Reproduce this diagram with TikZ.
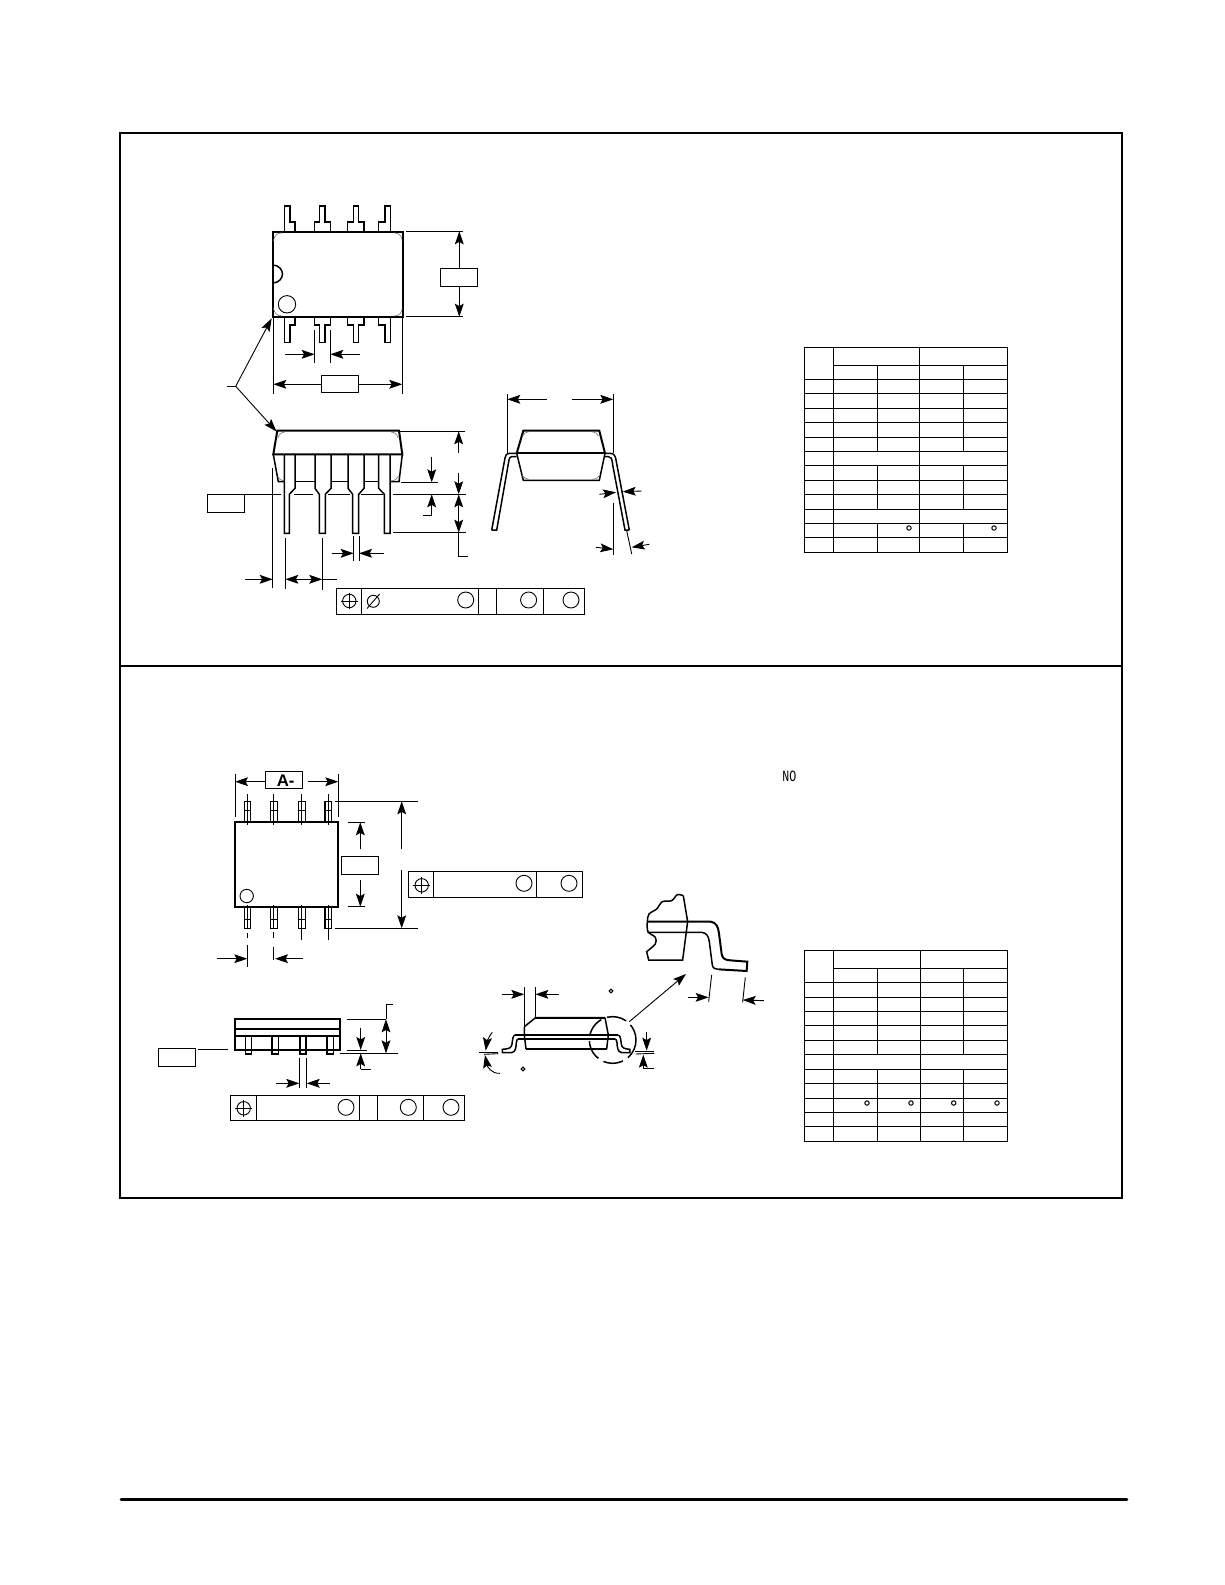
\documentclass[tikz,border=0pt]{standalone}
\usepackage{fontspec}
\setmainfont{Liberation Sans}
\newfontfamily\monolabel{Liberation Mono}
\usetikzlibrary{arrows.meta}
\tikzset{
    outline/.style={line width=1pt, line join=miter},
    lead/.style={line width=0.75pt},
    dim/.style={line width=0.45pt},
    rule/.style={line width=0.5pt},
    corner/.style={line width=0.3pt, draw=black!55}
}
\begin{document}
\begin{tikzpicture}[x=0.5pt, y=-0.5pt, >={Stealth[length=6.5pt,width=4.4pt,inset=1.2pt]}]
        \useasboundingbox (0, 0) rectangle (1225, 1585);
        % page frame
        \draw[line width=1pt] (119.7, 132.7) rectangle (1122, 1197.7);
        \draw[line width=1pt] (119.7, 666) -- (1122, 666);
        \draw[line width=1.3pt, line cap=round] (121, 1499.3) -- (1127, 1499.3);
        % upper package, top view
        \draw[outline] (272.7, 232) rectangle (403, 316.7);
        \draw[lead] (272.7, 265) .. controls (279, 265) and (282.5, 270) .. (282.5, 274) .. controls (282.5, 278) and (279, 283) .. (272.7, 283);
        \draw[dim] (287, 304.3) circle [radius=8.7];
        \draw[corner] (273.5, 241) .. controls (274, 236) and (277, 233) .. (282, 232.8);
        \draw[corner] (402.2, 241) .. controls (402, 236) and (399, 233) .. (394, 232.8);
        \draw[corner] (273.5, 308) .. controls (274, 313) and (277, 316) .. (282, 316);
        \draw[corner] (402.2, 308) .. controls (402, 313) and (399, 316) .. (394, 316);
        \draw[lead] (284.3, 232) -- (284.3, 206) -- (290, 206) -- (290, 222) -- (295, 222) -- (295, 232);
        \draw[lead] (314.3, 232) -- (314.3, 222) -- (319.3, 222) -- (319.3, 206) -- (325, 206) -- (325, 222) -- (330.7, 222) -- (330.7, 232);
        \draw[lead] (347.7, 232) -- (347.7, 222) -- (353.3, 222) -- (353.3, 206) -- (358.3, 206) -- (358.3, 222) -- (364, 222) -- (364, 232);
        \draw[lead] (378.7, 232) -- (378.7, 222) -- (385, 222) -- (385, 206) -- (390.3, 206) -- (390.3, 232);
        \draw[lead] (284.3, 316.7) -- (284.3, 342.3) -- (290, 342.3) -- (290, 325) -- (295, 325) -- (295, 316.7);
        \draw[lead] (314.3, 316.7) -- (314.3, 325) -- (319.3, 325) -- (319.3, 342.3) -- (325, 342.3) -- (325, 325) -- (330.7, 325) -- (330.7, 316.7);
        \draw[lead] (347.7, 316.7) -- (347.7, 325) -- (353.3, 325) -- (353.3, 342.3) -- (358.3, 342.3) -- (358.3, 325) -- (364, 325) -- (364, 316.7);
        \draw[lead] (378.7, 316.7) -- (378.7, 325) -- (385, 325) -- (385, 342.3) -- (390.3, 342.3) -- (390.3, 316.7);
        \draw[dim] (406, 231.3) -- (463.3, 231.3);
        \draw[dim] (406, 316.7) -- (463.3, 316.7);
        \draw[dim, ->] (459.3, 268.3) -- (459.3, 231.3);
        \draw[dim, ->] (459.3, 286.7) -- (459.3, 316.7);
        \draw[rule] (440.3, 268.3) rectangle (477.7, 286.7);
        \draw[dim] (314.7, 330) -- (314.7, 363.3);
        \draw[dim] (330.3, 330) -- (330.3, 363.3);
        \draw[dim, ->] (285, 354.3) -- (314.7, 354.3);
        \draw[dim, ->] (360, 354.3) -- (330.3, 354.3);
        \draw[dim] (273.3, 318.3) -- (273.3, 394);
        \draw[dim] (402.3, 318.3) -- (402.3, 394);
        \draw[dim, ->] (321.3, 384.3) -- (273.3, 384.3);
        \draw[dim, ->] (358.7, 384.3) -- (402.3, 384.3);
        \draw[rule] (321.3, 375.3) rectangle (358.7, 392.3);
        \draw[dim] (227.3, 386.3) -- (235.7, 386.3);
        \draw[dim, ->] (235.7, 386.3) -- (271.7, 318.3);
        \draw[dim, ->] (235.7, 386.3) -- (276.5, 431.5);
        % upper package, side view
        \draw[outline] (273.3, 454.3) -- (277.3, 430.7) -- (399, 430.7) -- (402.3, 454.3) -- cycle;
        \draw[lead] (273.3, 454.3) -- (278.3, 481.7) -- (284.3, 481.7);
        \draw[lead] (402.3, 454.3) -- (399, 481.7) -- (390, 481.7);
        \draw[lead] (295, 481.7) -- (315, 481.7);
        \draw[lead] (331, 481.7) -- (348, 481.7);
        \draw[lead] (364, 481.7) -- (378.7, 481.7);
        \draw[corner] (278, 438) .. controls (279, 434) and (281, 432.5) .. (285, 432);
        \draw[corner] (398, 438) .. controls (397, 434) and (395, 432.5) .. (391, 432);
        \draw[corner] (277.5, 476) .. controls (279, 479) and (281, 480.5) .. (284, 481);
        \draw[corner] (398.5, 476) .. controls (397, 479) and (395, 480.5) .. (391, 481);
        \draw[lead] (284.3, 454.3) -- (284.3, 533.3) -- (289.3, 533.3) -- (289.3, 494.3) -- (295, 488.3) -- (295, 454.3);
        \draw[lead] (315, 454.3) -- (315, 488.3) -- (319.3, 494.3) -- (319.3, 533.3) -- (325.3, 533.3) -- (325.3, 494.3) -- (331, 488.3) -- (331, 454.3);
        \draw[lead] (348, 454.3) -- (348, 488.3) -- (352.7, 494.3) -- (352.7, 533.3) -- (358.7, 533.3) -- (358.7, 494.3) -- (364, 488.3) -- (364, 454.3);
        \draw[lead] (378.7, 454.3) -- (378.7, 488.3) -- (384.3, 494.3) -- (384.3, 533.3) -- (390, 533.3) -- (390, 454.3);
        \draw[rule] (207.3, 494.3) rectangle (244.3, 512.3);
        \draw[dim] (244.3, 494.3) -- (281, 494.3);
        \draw[dim] (294.3, 494.3) -- (312.7, 494.3);
        \draw[dim] (328.3, 494.3) -- (350, 494.3);
        \draw[dim] (360.7, 494.3) -- (383.3, 494.3);
        \draw[dim] (393.3, 494.3) -- (466, 494.3);
        \draw[dim] (393.3, 532.3) -- (466, 532.3);
        \draw[dim] (400, 431.3) -- (465, 431.3);
        \draw[dim] (401, 482.3) -- (437.7, 482.3);
        \draw[dim, ->] (458.7, 452.7) -- (458.7, 431.3);
        \draw[dim, ->] (458.7, 473.3) -- (458.7, 494.3);
        \draw[dim, <->] (458.7, 494.3) -- (458.7, 532.7);
        \draw[dim] (458.7, 532.7) -- (458.7, 556) -- (467.7, 556);
        \draw[dim, ->] (431.7, 456.7) -- (431.7, 482.3);
        \draw[dim, ->] (431.7, 515) -- (431.7, 494.3);
        \draw[dim] (423.3, 515) -- (431.7, 515);
        \draw[dim] (353.7, 536) -- (353.7, 561);
        \draw[dim] (359, 536) -- (359, 561);
        \draw[dim, ->] (331.7, 553.3) -- (353.7, 553.3);
        \draw[dim, ->] (384, 553.3) -- (359, 553.3);
        \draw[dim] (272.7, 468.3) -- (272.7, 588.3);
        \draw[dim] (285.3, 538.3) -- (285.3, 589);
        \draw[dim] (322.3, 538.3) -- (322.3, 590);
        \draw[dim, ->] (245, 579.3) -- (272.7, 579.3);
        \draw[dim, <->] (285.3, 579.3) -- (322.3, 579.3);
        \draw[dim] (322.3, 579.3) -- (336.7, 579.3);
        \draw[rule] (336.3, 588.3) rectangle (584, 614.3);
        \draw[rule] (361.7, 588.3) -- (361.7, 614.3);
        \draw[rule] (478.3, 588.3) -- (478.3, 614.3);
        \draw[rule] (496.7, 588.3) -- (496.7, 614.3);
        \draw[rule] (543, 588.3) -- (543, 614.3);
        \draw[dim] (349.3, 601) circle [radius=6.7];
        \draw[dim] (341, 601) -- (357.6, 601);
        \draw[dim] (349.3, 592.7) -- (349.3, 609.3);
        \draw[dim] (373.3, 601.3) circle [radius=6];
        \draw[dim] (367, 608.5) -- (379.6, 594);
        \draw[dim] (465.7, 600) circle [radius=8];
        \draw[dim] (528.6, 600) circle [radius=8];
        \draw[dim] (571, 600) circle [radius=8];
        % upper package, end view
        \draw[outline] (516.7, 453.3) -- (523.3, 430.7) -- (599.3, 430.7) -- (605, 453.3);
        \draw[lead] (516.7, 453.3) -- (523.3, 480.3) -- (599.3, 480.3) -- (605, 453.3);
        \draw[outline] (516.7, 453.3) -- (605, 453.3);
        \draw[corner] (522.5, 436) .. controls (524, 433) and (526, 432) .. (529, 431.7);
        \draw[corner] (598.5, 436) .. controls (597, 433) and (595, 432) .. (592, 431.7);
        \draw[corner] (522, 475) .. controls (524, 478) and (526, 479) .. (529, 479.3);
        \draw[corner] (600, 475) .. controls (598, 478) and (596, 479) .. (592, 479.3);
        \draw[lead] (516.7, 453.3) -- (510, 453.3) .. controls (506, 453.3) and (505.5, 456) .. (505, 458) -- (491.7, 530);
        \draw[lead] (516.7, 456.5) -- (512, 456.5) .. controls (510, 456.5) and (509.5, 458) .. (509, 460) -- (496.7, 530) -- (491.7, 530);
        \draw[lead] (605, 453.3) -- (610, 453.3) .. controls (614, 453.3) and (615.5, 456) .. (616, 460) -- (629.3, 530);
        \draw[lead] (605, 456.5) -- (608, 456.5) .. controls (611, 456.5) and (612, 458) .. (612.7, 465) -- (625, 530) -- (629.3, 530);
        \draw[dim] (507.3, 394.3) -- (507.3, 453.3);
        \draw[dim] (613.3, 394.3) -- (613.3, 453.3);
        \draw[dim, ->] (546.7, 399.3) -- (507.3, 399.3);
        \draw[dim, ->] (572.3, 399.3) -- (613.3, 399.3);
        \draw[dim, ->] (599.3, 494.3) -- (616, 492.3);
        \draw[dim, ->] (641.7, 491) -- (622.7, 491.7);
        \draw[dim] (613.3, 503.3) -- (613.3, 555);
        \draw[dim] (626.7, 530.7) -- (631.7, 554);
        \draw[dim, ->] (596, 547.3) -- (613.3, 549.3);
        \draw[dim, ->] (649.3, 544.3) -- (631.7, 547.3);
        % upper table
        \draw[rule] (804.3, 347.3) rectangle (1007.3, 552.3);
        \draw[rule] (833.3, 347.3) -- (833.3, 552.3);
        \draw[rule] (919.3, 347.3) -- (919.3, 552.3);
        \draw[rule] (833.3, 365.3) -- (1007.3, 365.3);
        \draw[rule] (804.3, 379.3) -- (1007.3, 379.3);
        \draw[rule] (804.3, 393.7) -- (1007.3, 393.7);
        \draw[rule] (804.3, 408.3) -- (1007.3, 408.3);
        \draw[rule] (804.3, 422.7) -- (1007.3, 422.7);
        \draw[rule] (804.3, 437.3) -- (1007.3, 437.3);
        \draw[rule] (804.3, 451.3) -- (1007.3, 451.3);
        \draw[rule] (804.3, 465.7) -- (1007.3, 465.7);
        \draw[rule] (804.3, 480.3) -- (1007.3, 480.3);
        \draw[rule] (804.3, 494.7) -- (1007.3, 494.7);
        \draw[rule] (804.3, 509.3) -- (1007.3, 509.3);
        \draw[rule] (804.3, 523.3) -- (1007.3, 523.3);
        \draw[rule] (804.3, 537.3) -- (1007.3, 537.3);
        \draw[rule] (877.3, 365.3) -- (877.3, 451.3);
        \draw[rule] (963.3, 365.3) -- (963.3, 451.3);
        \draw[rule] (877.3, 465.7) -- (877.3, 509.3);
        \draw[rule] (963.3, 465.7) -- (963.3, 509.3);
        \draw[rule] (877.3, 523.3) -- (877.3, 552.3);
        \draw[rule] (963.3, 523.3) -- (963.3, 552.3);
        \draw[rule] (909, 528) circle [radius=2.2];
        \draw[rule] (994, 528) circle [radius=2.2];
        % lower package, top view
        \node[transform shape, yscale=1.35] (notelabel) at (789.3, 776.5) {\monolabel\fontsize{5.8}{6}\selectfont NO};
        \draw[outline] (235, 822.3) rectangle (338.3, 906.7);
        \draw[dim] (246.7, 896) circle [radius=6.7];
        \draw[lead] (244.3, 822.3) rectangle (250.7, 801.3);
        \draw[lead] (270.3, 822.3) rectangle (277.7, 801.3);
        \draw[lead] (298.3, 822.3) rectangle (305.7, 801.3);
        \draw[lead] (325, 822.3) rectangle (331.7, 801.3);
        \draw[lead] (244.3, 906.7) rectangle (250.7, 928.3);
        \draw[lead] (270.3, 906.7) rectangle (277.7, 928.3);
        \draw[lead] (298.3, 906.7) rectangle (305.7, 928.3);
        \draw[lead] (325, 906.7) rectangle (331.7, 928.3);
        \draw[dim] (247.3, 794.3) -- (247.3, 825);
        \draw[dim] (273.7, 794.3) -- (273.7, 825);
        \draw[dim] (301.7, 794.3) -- (301.7, 825);
        \draw[dim] (328.3, 794.3) -- (328.3, 825);
        \draw[dim] (244.3, 810) -- (250.7, 810);
        \draw[dim] (270.3, 810) -- (277.7, 810);
        \draw[dim] (298.3, 810) -- (305.7, 810);
        \draw[dim] (325, 810) -- (331.7, 810);
        \draw[dim] (247.3, 905) -- (247.3, 928.3);
        \draw[dim] (273.7, 905) -- (273.7, 928.3);
        \draw[dim] (301.7, 905) -- (301.7, 940);
        \draw[dim] (328.3, 905) -- (328.3, 940);
        \draw[dim] (244.3, 919) -- (250.7, 919);
        \draw[dim] (270.3, 919) -- (277.7, 919);
        \draw[dim] (298.3, 919) -- (305.7, 919);
        \draw[dim] (325, 919) -- (331.7, 919);
        \draw[dim] (247.3, 933.3) -- (247.3, 938.3);
        \draw[dim] (247.3, 945) -- (247.3, 966.7);
        \draw[dim] (273.7, 932) -- (273.7, 938.3);
        \draw[dim] (273.7, 946.7) -- (273.7, 960);
        \draw[dim, ->] (216.7, 958.7) -- (247.3, 958.7);
        \draw[dim, ->] (303.3, 958.7) -- (275, 958.7);
        \draw[dim] (235, 774) -- (235, 816.7);
        \draw[dim] (338.3, 774) -- (338.3, 816.7);
        \draw[dim, ->] (265, 781.7) -- (235, 781.7);
        \draw[dim, ->] (307.7, 781.7) -- (338.3, 781.7);
        \draw[rule] (265, 771) rectangle (302.7, 788.3);
        \node (datumlabel) at (285.7, 780.3) {\bfseries\fontsize{8.4}{9}\selectfont A-};
        \draw[dim] (335, 801.3) -- (418.3, 801.3);
        \draw[dim] (335, 928.3) -- (418.3, 928.3);
        \draw[dim, ->] (401.7, 849) -- (401.7, 801.3);
        \draw[dim, ->] (401.7, 870) -- (401.7, 928.3);
        \draw[dim] (348.3, 822.3) -- (365, 822.3);
        \draw[dim] (348.3, 906.7) -- (365, 906.7);
        \draw[dim, ->] (360.3, 849.3) -- (360.3, 822.3);
        \draw[dim, ->] (360.3, 880) -- (360.3, 906.7);
        \draw[rule] (341.3, 856.3) rectangle (378.7, 874.3);
        \draw[rule] (408.3, 871) rectangle (582.7, 897.3);
        \draw[rule] (433.3, 871) -- (433.3, 897.3);
        \draw[rule] (536.3, 871) -- (536.3, 897.3);
        \draw[dim] (421.7, 885.3) circle [radius=6.7];
        \draw[dim] (413.4, 885.3) -- (430, 885.3);
        \draw[dim] (421.7, 877) -- (421.7, 893.6);
        \draw[dim] (524, 883.3) circle [radius=8];
        \draw[dim] (569, 883.3) circle [radius=8];
        % lower package, side view
        \draw[outline] (234.7, 1019.3) rectangle (340, 1050);
        \draw[outline] (234.7, 1029) -- (340, 1029);
        \draw[lead] (234.7, 1036) -- (340, 1036);
        \draw[lead] (245.7, 1036) -- (245.7, 1054) -- (251.7, 1054) -- (251.7, 1036);
        \draw[lead] (272, 1036) -- (272, 1054) -- (278.7, 1054) -- (278.7, 1036);
        \draw[lead] (300, 1036) -- (300, 1054) -- (306, 1054) -- (306, 1036);
        \draw[lead] (327, 1036) -- (327, 1054) -- (333.3, 1054) -- (333.3, 1036);
        \draw[rule] (158.3, 1048.3) rectangle (195.7, 1066.7);
        \draw[dim] (198, 1049.3) -- (227.7, 1049.3);
        \draw[dim] (347.3, 1019.3) -- (386, 1019.3);
        \draw[dim] (340, 1053.3) -- (398.3, 1053.3);
        \draw[dim] (347.3, 1050) -- (366.7, 1050);
        \draw[dim, <->] (386, 1019.3) -- (386, 1053.3);
        \draw[dim] (386, 1019.3) -- (386, 1004.7) -- (392.7, 1004.7);
        \draw[dim, ->] (360.7, 1028.3) -- (360.7, 1050);
        \draw[dim, ->] (360.7, 1069.3) -- (360.7, 1053.3);
        \draw[dim] (360.7, 1069.3) -- (370.7, 1069.3);
        \draw[dim] (299.3, 1057.7) -- (299.3, 1088.3);
        \draw[dim] (306.7, 1057.7) -- (306.7, 1088.3);
        \draw[dim, ->] (276, 1083.3) -- (299.3, 1083.3);
        \draw[dim, ->] (330, 1083.3) -- (306.7, 1083.3);
        \draw[rule] (230.3, 1095.3) rectangle (464.7, 1120.3);
        \draw[rule] (256.3, 1095.3) -- (256.3, 1120.3);
        \draw[rule] (359.3, 1095.3) -- (359.3, 1120.3);
        \draw[rule] (377.3, 1095.3) -- (377.3, 1120.3);
        \draw[rule] (423.3, 1095.3) -- (423.3, 1120.3);
        \draw[dim] (243.7, 1108.3) circle [radius=6.7];
        \draw[dim] (235.4, 1108.3) -- (252, 1108.3);
        \draw[dim] (243.7, 1100) -- (243.7, 1116.6);
        \draw[dim] (346, 1107.3) circle [radius=8];
        \draw[dim] (408.3, 1107.3) circle [radius=8];
        \draw[dim] (451, 1107.3) circle [radius=8];
        % lower package, end view and lead detail
        \begin{scope}[shift={(470, 880)}, scale=0.3333]
        \draw[lead] (163, 440) -- (197, 413) -- (405, 413);
        \draw[outline] (197, 413) -- (405, 413);
        \draw[lead] (163, 440) -- (163, 465) -- (168, 507);
        \draw[outline] (168, 507) -- (410, 507);
        \draw[lead] (405, 413) -- (415, 465) -- (410, 507);
        \draw[outline] (135, 465) -- (445, 465);
        \draw[lead] (145, 477) -- (435, 477);
        \draw[lead] (135, 465) .. controls (128, 468) and (128, 478) .. (126, 492) .. controls (125, 503) and (118, 507) .. (97, 508) -- (97, 518) -- (125, 518) .. controls (138, 516) and (138, 500) .. (139, 488) .. controls (140, 481) and (141, 478) .. (145, 477);
        \draw[lead] (445, 465) .. controls (452, 468) and (452, 478) .. (454, 492) .. controls (455, 503) and (462, 507) .. (480, 508) -- (480, 518) -- (455, 518) .. controls (442, 516) and (442, 500) .. (441, 488) .. controls (440, 481) and (439, 478) .. (435, 477);
        \draw[lead, dash pattern=on 10pt off 3pt] (428, 480) circle [radius=70];
        \draw[dim] (163, 322) -- (163, 440);
        \draw[dim] (196, 322) -- (196, 413);
        \draw[dim, ->] (95, 343) -- (163, 343);
        \draw[dim, ->] (266, 343) -- (196, 343);
        \draw[rule] (423, 333) circle [radius=5.5];
        \draw[rule] (159, 567) circle [radius=5.5];
        \draw[dim] (28, 517) -- (85, 517);
        \draw[dim] (42, 523) -- (85, 521);
        \draw[dim, ->] (67, 457) .. controls (55, 470) and (50, 490) .. (47, 512);
        \draw[dim, ->] (90, 580) .. controls (65, 582) and (52, 560) .. (45, 525);
        \draw[dim] (495, 515) -- (553, 515);
        \draw[dim] (497, 522) -- (553, 520);
        \draw[dim, ->] (530, 457) -- (530, 512);
        \draw[dim, ->] (520, 565) -- (520, 524);
        \draw[dim] (518, 565) -- (552, 565);
        \draw[dim, ->] (478, 425) -- (648, 282);
        \draw[lead] plot[smooth] coordinates {(640, 47) (622, 44) (605, 62) (577, 65) (560, 87) (537, 102) (532, 125) (534, 155) (556, 172) (556, 192) (530, 215)} -- (536, 240) -- (638, 240) -- (653, 125) -- (640, 47);
        \draw[outline] (532, 125) -- (722, 125) .. controls (738, 127) and (745, 140) .. (747, 160) -- (755, 222) .. controls (757, 235) and (765, 240) .. (780, 241) -- (832, 245) -- (830, 273) -- (745, 268);
        \draw[lead] (533, 157) -- (695, 157) .. controls (710, 158) and (716, 170) .. (718, 185) -- (727, 255) .. controls (729, 265) and (736, 268) .. (745, 268);
        \draw[dim] (725, 285) -- (716, 365);
        \draw[dim] (826, 292) -- (818, 367);
        \draw[dim, ->] (655, 352) -- (716, 352);
        \draw[dim, ->] (882, 362) -- (818, 360);
        \end{scope}
        % lower table
        \draw[rule] (804.3, 950.3) rectangle (1007.3, 1141.3);
        \draw[rule] (833.3, 950.3) -- (833.3, 1141.3);
        \draw[rule] (920.3, 950.3) -- (920.3, 1141.3);
        \draw[rule] (833.3, 968.3) -- (1007.3, 968.3);
        \draw[rule] (804.3, 982.3) -- (1007.3, 982.3);
        \draw[rule] (804.3, 997.3) -- (1007.3, 997.3);
        \draw[rule] (804.3, 1011.7) -- (1007.3, 1011.7);
        \draw[rule] (804.3, 1025.7) -- (1007.3, 1025.7);
        \draw[rule] (804.3, 1040.3) -- (1007.3, 1040.3);
        \draw[rule] (804.3, 1054.7) -- (1007.3, 1054.7);
        \draw[rule] (804.3, 1069.3) -- (1007.3, 1069.3);
        \draw[rule] (804.3, 1083.7) -- (1007.3, 1083.7);
        \draw[rule] (804.3, 1098.3) -- (1007.3, 1098.3);
        \draw[rule] (804.3, 1112.7) -- (1007.3, 1112.7);
        \draw[rule] (804.3, 1126.3) -- (1007.3, 1126.3);
        \draw[rule] (877.3, 968.3) -- (877.3, 1054.7);
        \draw[rule] (963.3, 968.3) -- (963.3, 1054.7);
        \draw[rule] (877.3, 1069.3) -- (877.3, 1141.3);
        \draw[rule] (963.3, 1069.3) -- (963.3, 1141.3);
        \draw[rule] (867, 1103) circle [radius=2.2];
        \draw[rule] (911, 1103) circle [radius=2.2];
        \draw[rule] (953.7, 1103) circle [radius=2.2];
        \draw[rule] (997, 1103) circle [radius=2.2];
    \end{tikzpicture}
\end{document}
